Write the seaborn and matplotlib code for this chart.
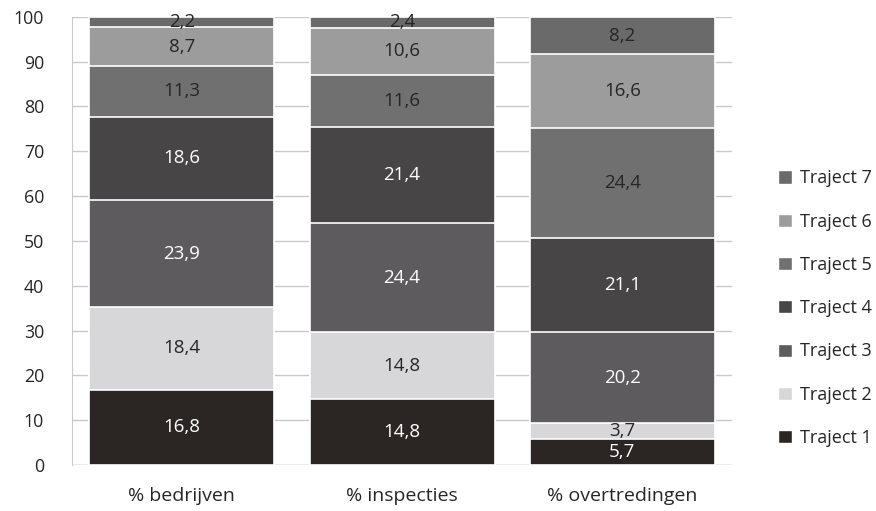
import numpy as np
import pandas as pd
import matplotlib
matplotlib.use('Agg')
import matplotlib.pyplot as plt
import matplotlib.patches as mpatches
import seaborn as sns

sns.set_style('white')
plt.rcParams['font.family'] = ['Open Sans', 'DejaVu Sans']

categories = ['% bedrijven', '% inspecties', '% overtredingen']
trajects = ['Traject 1', 'Traject 2', 'Traject 3', 'Traject 4',
            'Traject 5', 'Traject 6', 'Traject 7']
values = {
    'Traject 1': [16.8, 14.8, 5.7],
    'Traject 2': [18.4, 14.8, 3.7],
    'Traject 3': [23.9, 24.4, 20.2],
    'Traject 4': [18.6, 21.4, 21.1],
    'Traject 5': [11.3, 11.6, 24.4],
    'Traject 6': [8.7, 10.6, 16.6],
    'Traject 7': [2.2, 2.4, 8.2],
}
colors = ['#2b2624', '#d7d7d9', '#5d5b5d', '#474546', '#717071', '#9c9c9d', '#6b6a6b']
text_colors = ['white', '#262626', 'white', 'white', '#262626', '#262626', '#262626']

df = pd.DataFrame(values, index=categories)
cum = df.cumsum(axis=1)

fig = plt.figure(figsize=(8.76, 5.11), dpi=100)
ax = fig.add_axes([0.082, 0.09, 0.754, 0.877])

grid_c = '#c9c9c9'
ax.set_axisbelow(True)
ax.yaxis.grid(True, color=grid_c, linewidth=1)

# draw cumulative bars from the top down so each covers the part beneath
for i in range(len(trajects) - 1, -1, -1):
    t = trajects[i]
    d = pd.DataFrame({'cat': categories, 'val': cum[t].values})
    sns.barplot(data=d, x='cat', y='val', color=colors[i], width=0.84,
                edgecolor='white', linewidth=1.2, ax=ax, saturation=1)

for j, c in enumerate(categories):
    base = 0
    for i, t in enumerate(trajects):
        v = df.loc[c, t]
        ax.text(j, base + v / 2, f'{v:.1f}'.replace('.', ','), ha='center',
                va='center', fontsize=13.5, color=text_colors[i])
        base += v

ax.set_xlim(-0.5, 2.5)
ax.set_ylim(0, 100)
ax.set_yticks(range(0, 101, 10))
ax.set_xlabel('')
ax.set_ylabel('')
for s in ['top', 'right', 'bottom']:
    ax.spines[s].set_visible(False)
ax.spines['left'].set_color(grid_c)
ax.axhline(0, color=grid_c, linewidth=1, zorder=0.5)
ax.tick_params(axis='y', length=7, color=grid_c, labelsize=12.8, pad=13,
               labelcolor='#262626')
ax.tick_params(axis='x', which='major', length=0, labelsize=14, pad=16,
               labelcolor='#262626')
ax.set_xticks([-0.5, 0.5, 1.5, 2.5], minor=True)
ax.tick_params(axis='x', which='minor', length=7, color=grid_c)

handles = [mpatches.Patch(facecolor=colors[i], edgecolor='white', label=trajects[i])
           for i in range(len(trajects) - 1, -1, -1)]
ax.legend(handles=handles, loc='center left', bbox_to_anchor=(1.045, 0.35),
          frameon=False, fontsize=13, labelcolor='#262626', labelspacing=1.4,
          handlelength=0.75, handleheight=0.75, handletextpad=0.45)

fig.savefig('out.png', dpi=100)
